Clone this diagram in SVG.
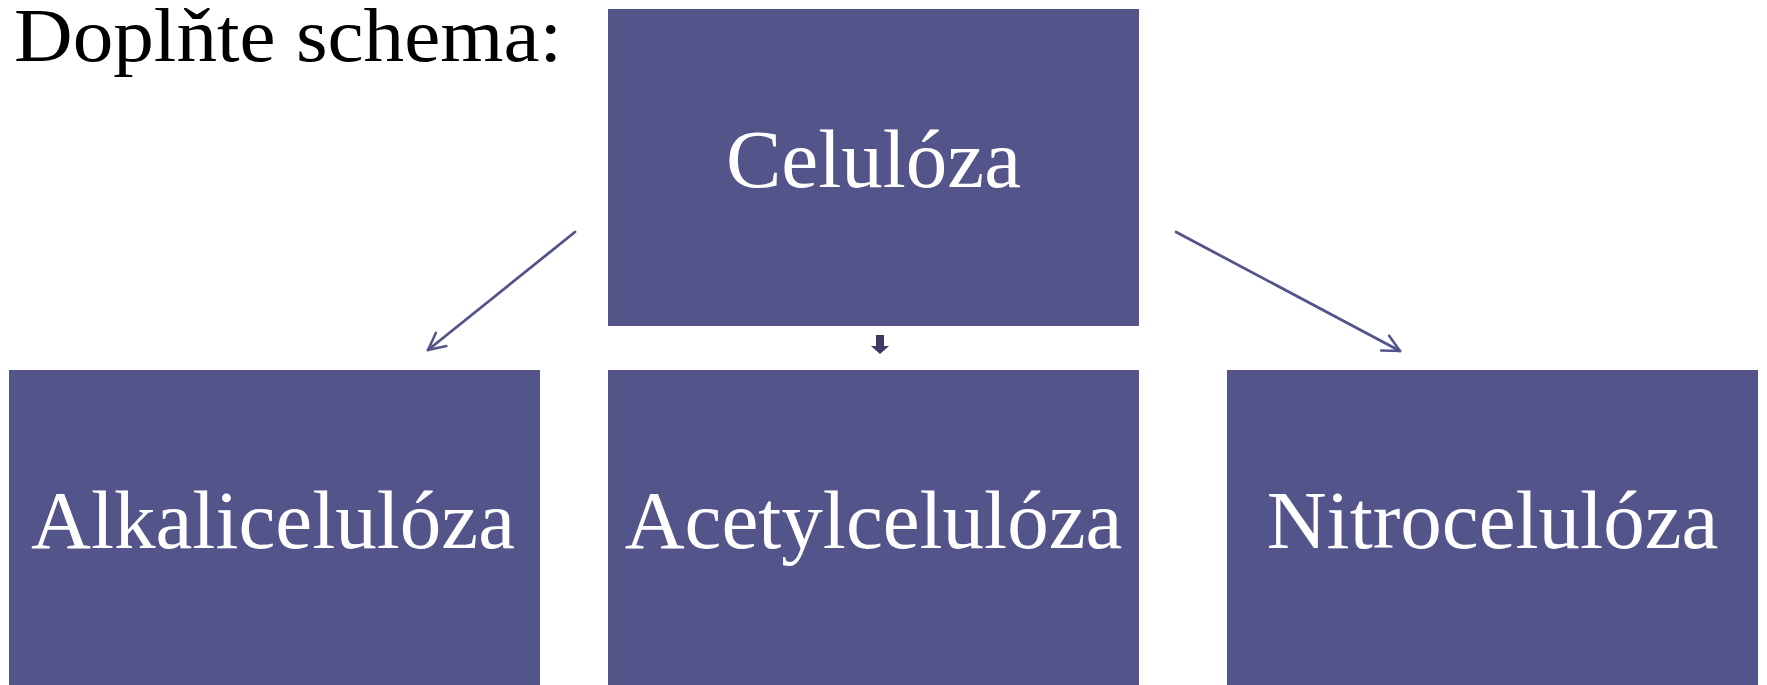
<svg xmlns="http://www.w3.org/2000/svg" width="1767" height="685" viewBox="0 0 1767 685">
  <style>
    .box { fill: #53548A; }
    .label { font-family: "Liberation Serif", "Times New Roman", serif; font-size: 83px; fill: #FFFFFF; text-anchor: middle; }
    .title { font-family: "Liberation Serif", "Times New Roman", serif; font-size: 76px; fill: #000000; }
    .link { stroke: #53548A; stroke-width: 2.8; fill: none; stroke-linecap: round; }
  </style>
  <defs>
    <marker id="open-head" viewBox="0 0 10 10" refX="9" refY="5" markerWidth="7.5" markerHeight="7.5" markerUnits="strokeWidth" orient="auto">
      <path d="M1,1 L9,5 L1,9" fill="none" stroke="#53548A" stroke-width="1.2" stroke-linecap="round" stroke-linejoin="round"/>
    </marker>
  </defs>
  <rect width="1767" height="685" fill="#FFFFFF"/>

  <text class="title" x="14" y="61" textLength="548" lengthAdjust="spacingAndGlyphs">Doplňte schema:</text>

  <g id="celuloza">
    <rect class="box" x="608" y="9" width="531" height="317"/>
    <text class="label" x="873.5" y="187">Celulóza</text>
  </g>

  <g id="alkaliceluloza">
    <rect class="box" x="9" y="370" width="531" height="320"/>
    <text class="label" x="273" y="548">Alkalicelulóza</text>
  </g>

  <g id="acetylceluloza">
    <rect class="box" x="608" y="370" width="531" height="320"/>
    <text class="label" x="873.5" y="548">Acetylcelulóza</text>
  </g>

  <g id="nitroceluloza">
    <rect class="box" x="1227" y="370" width="531" height="320"/>
    <text class="label" x="1492.5" y="548">Nitrocelulóza</text>
  </g>

  <g id="connectors">
    <line class="link" x1="575" y1="232" x2="428" y2="350" marker-end="url(#open-head)"/>
    <line class="link" x1="1176" y1="232" x2="1400" y2="351" marker-end="url(#open-head)"/>
    <path d="M876,335 L884,335 L884,346 L889,346 L880,354 L871,346 L876,346 Z" fill="#3B3B66"/>
  </g>
</svg>
